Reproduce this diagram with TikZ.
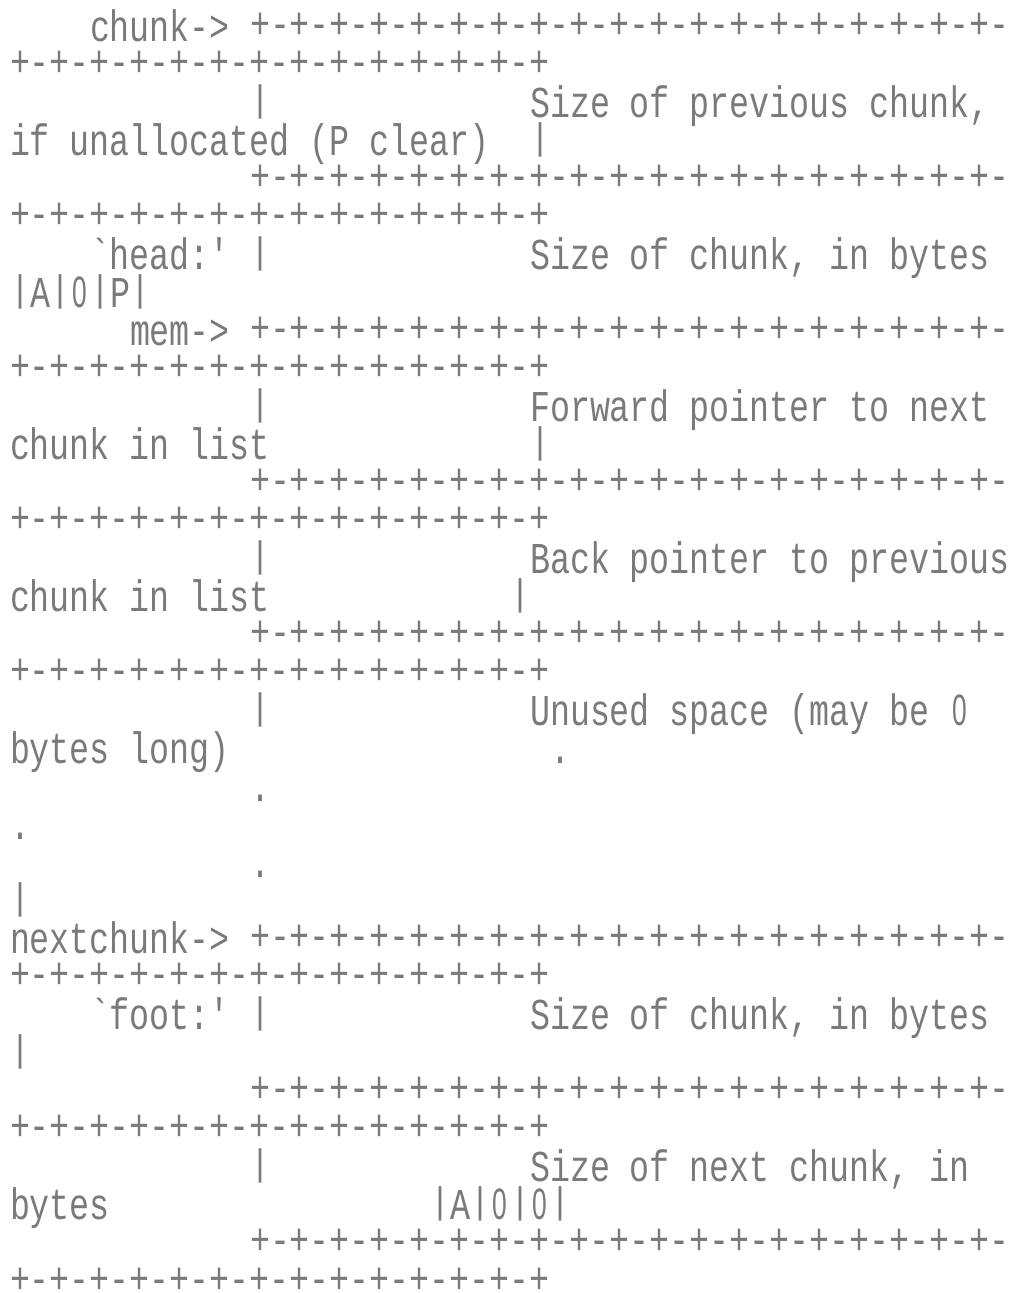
\documentclass[tikz,border=0pt]{standalone}
\usepackage{fontspec}
\usepackage{graphicx}
\setmonofont{Liberation Mono}[FakeStretch=0.7575]
\newfontfamily\zerofont{Liberation Sans}[FakeStretch=0.6]
\definecolor{ink}{RGB}{122,122,122}
\tikzset{
  tx/.style={anchor=base west,inner sep=0pt,outer sep=0pt,text=ink,
    text height=30pt,text depth=6pt,font=\ttfamily\fontsize{44}{38}\selectfont},
  sepline/.style={tx,text height=28pt,text depth=0pt}
}
\newcommand\rowtxt[4]{\node[tx] (#1) at ({10+20*#2},{41+(#3-1)*38.03}) {#4};}
\newcommand\rowsep[4]{\node[sepline] (#1) at ({10+20*#2},{38+(#3-1)*38.03}) {#4};}
\newcommand\sepA{+-+-+-+-+-+-+-+-+-+-+-+-+-+-+-+-+-+-+-}
\newcommand\sepB{+-+-+-+-+-+-+-+-+-+-+-+-+-+}
\newcommand\zr{\makebox[20pt]{\zerofont 0}}
\newcommand\vb{\raisebox{6pt}{\scalebox{1}[0.84]{|}}}
\begin{document}
\begin{tikzpicture}[x=1pt,y=-1pt]
\fill[white] (0,0) rectangle (1016,1293);
\useasboundingbox (0,0) rectangle (1016,1293);
\rowtxt{chunk}{4}{1}{chunk->}
\rowsep{s1a}{12}{1}{\sepA}
\rowsep{s1b}{0}{2}{\sepB}
\rowtxt{b3}{12}{3}{\vb}
\rowtxt{t3}{26}{3}{Size of previous chunk,}
\rowtxt{t4}{0}{4}{if unallocated (P clear)}
\rowtxt{b4}{26}{4}{\vb}
\rowsep{s2a}{12}{5}{\sepA}
\rowsep{s2b}{0}{6}{\sepB}
\rowtxt{head}{4}{7}{`head:'}
\rowtxt{b7}{12}{7}{\vb}
\rowtxt{t7}{26}{7}{Size of chunk, in bytes}
\rowtxt{t8}{0}{8}{\vb A\vb\zr\vb P\vb}
\rowtxt{mem}{6}{9}{mem->}
\rowsep{s3a}{12}{9}{\sepA}
\rowsep{s3b}{0}{10}{\sepB}
\rowtxt{b11}{12}{11}{\vb}
\rowtxt{t11}{26}{11}{Forward pointer to next}
\rowtxt{t12}{0}{12}{chunk in list}
\rowtxt{b12}{26}{12}{\vb}
\rowsep{s4a}{12}{13}{\sepA}
\rowsep{s4b}{0}{14}{\sepB}
\rowtxt{b15}{12}{15}{\vb}
\rowtxt{t15}{26}{15}{Back pointer to previous}
\rowtxt{t16}{0}{16}{chunk in list}
\rowtxt{b16}{25}{16}{\vb}
\rowsep{s5a}{12}{17}{\sepA}
\rowsep{s5b}{0}{18}{\sepB}
\rowtxt{b19}{12}{19}{\vb}
\rowtxt{t19}{26}{19}{Unused space (may be \zr}
\rowtxt{t20}{0}{20}{bytes long)}
\rowtxt{d20}{27}{20}{.}
\rowtxt{d21}{12}{21}{.}
\rowtxt{d22}{0}{22}{.}
\rowtxt{d23}{12}{23}{.}
\rowtxt{b24}{0}{24}{\vb}
\rowtxt{next}{0}{25}{nextchunk->}
\rowsep{s6a}{12}{25}{\sepA}
\rowsep{s6b}{0}{26}{\sepB}
\rowtxt{foot}{4}{27}{`foot:'}
\rowtxt{b27}{12}{27}{\vb}
\rowtxt{t27}{26}{27}{Size of chunk, in bytes}
\rowtxt{b28}{0}{28}{\vb}
\rowsep{s7a}{12}{29}{\sepA}
\rowsep{s7b}{0}{30}{\sepB}
\rowtxt{b31}{12}{31}{\vb}
\rowtxt{t31}{26}{31}{Size of next chunk, in}
\rowtxt{t32}{0}{32}{bytes}
\rowtxt{f32}{21}{32}{\vb A\vb\zr\vb\zr\vb}
\rowsep{s8a}{12}{33}{\sepA}
\rowsep{s8b}{0}{34}{\sepB}
\end{tikzpicture}
\end{document}
